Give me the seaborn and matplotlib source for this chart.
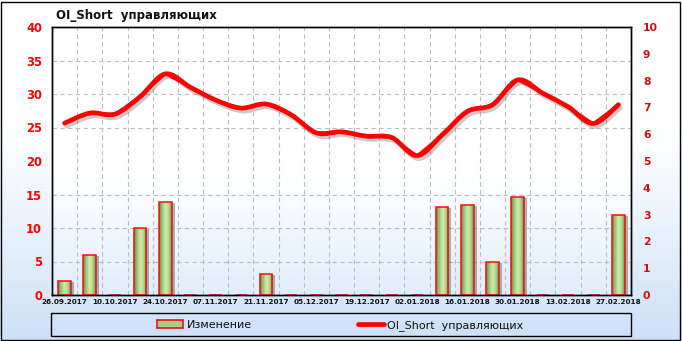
import numpy as np
import pandas as pd
import matplotlib
matplotlib.use("Agg")
import matplotlib.pyplot as plt
import seaborn as sns
from matplotlib import transforms
from matplotlib.patches import Rectangle, PathPatch
from matplotlib.path import Path
from matplotlib.lines import Line2D
from matplotlib.ticker import FixedLocator

# ---------------- data ----------------
dates = ["26.09.2017", "03.10.2017", "10.10.2017", "17.10.2017", "24.10.2017",
         "31.10.2017", "07.11.2017", "14.11.2017", "21.11.2017", "28.11.2017",
         "05.12.2017", "12.12.2017", "19.12.2017", "26.12.2017", "02.01.2018",
         "09.01.2018", "16.01.2018", "23.01.2018", "30.01.2018", "06.02.2018",
         "13.02.2018", "20.02.2018", "27.02.2018"]
oi_short = [25.65, 27.15, 27.0, 29.6, 33.0, 31.0, 29.1, 27.9, 28.5, 26.9,
            24.2, 24.35, 23.7, 23.5, 20.8, 23.9, 27.4, 28.4, 32.1, 30.1,
            28.1, 25.6, 28.4]
change = [0.54, 1.48, 0.0, 2.5, 3.46, 0.0, 0.0, 0.0, 0.8, 0.0,
          0.0, 0.0, 0.0, 0.0, 0.0, 3.3, 3.35, 1.23, 3.64, 0.0,
          0.0, 0.0, 3.0]
left_ticks = [0, 5, 10, 15, 20, 25, 30, 35, 40]
right_ticks = [0, 1, 2, 3, 4, 5, 6, 7, 8, 9, 10]
title = "OI_Short  управляющих"
bar_label = "Изменение"
line_label = "OI_Short  управляющих"

df = pd.DataFrame({"date": dates, "pos": np.arange(len(dates)),
                   "oi_short": oi_short, "change": change})

sns.set_theme(style="white")
plt.rcParams["font.family"] = ["DejaVu Sans"]

W, H = 682, 341
fig = plt.figure(figsize=(W / 100, H / 100), dpi=100)
fig.patch.set_facecolor("white")

def fr(x0, y0, x1, y1):
    return [x0 / W, 1 - y1 / H, (x1 - x0) / W, (y1 - y0) / H]

# figure background gradient
bg = fig.add_axes([0, 0, 1, 1], zorder=-10)
t = np.linspace(0, 1, 256)[:, None]
top = np.array([1.0, 1.0, 1.0])
bot = np.array([0.80, 0.88, 0.97])
w = np.clip((t - 0.35) / 0.65, 0, 1) ** 1.2
grad = top * (1 - w)[..., None] + bot * w[..., None]
bg.imshow(grad, extent=[0, 1, 0, 1], aspect="auto")
bg.set_xlim(0, 1); bg.set_ylim(0, 1)
bg.axis("off")
bg.add_patch(Rectangle((1 / W, 1 / H), 679 / W, 338 / H, fill=False,
                       edgecolor="black", linewidth=1.0,
                       transform=bg.transAxes))

# plot-area background gradient
rect = fr(52, 27, 631, 295)
pbg = fig.add_axes(rect, zorder=-5)
w2 = np.clip((t - 0.55) / 0.45, 0, 1)
grad2 = top * (1 - w2)[..., None] + np.array([0.88, 0.93, 0.985]) * w2[..., None]
pbg.imshow(grad2, extent=[0, 1, 0, 1], aspect="auto")
pbg.set_xlim(0, 1); pbg.set_ylim(0, 1)
pbg.axis("off")

# bars axis (values on right scale)
ax = fig.add_axes(rect)
ax.patch.set_alpha(0)
sns.barplot(data=df, x="date", y="change", ax=ax, width=0.5,
            color="#A9CC86", edgecolor="#EE1111", linewidth=1.1,
            saturation=1, zorder=3)

cols = np.array([[0.40, 0.56, 0.28], [0.62, 0.78, 0.47], [0.82, 0.92, 0.68],
                 [0.70, 0.85, 0.55], [0.42, 0.58, 0.30]])
xs = np.linspace(0, 1, 60)
gx = np.linspace(0, 1, len(cols))
bar_grad = np.stack([np.interp(xs, gx, cols[:, c]) for c in range(3)], axis=-1)[None, :, :]

shadow_off = transforms.ScaledTranslation(3 / 100, -1 / 100, fig.dpi_scale_trans)
for p in list(ax.patches):
    x0, y0 = p.get_x(), p.get_y()
    bw, bh = p.get_width(), p.get_height()
    if bh <= 0:
        continue
    ax.add_patch(Rectangle((x0, y0), bw, bh, facecolor="#3a2a20", alpha=0.35,
                           edgecolor="none", transform=ax.transData + shadow_off,
                           zorder=2))
    im = ax.imshow(bar_grad, extent=[x0, x0 + bw, y0, y0 + bh], aspect="auto",
                   zorder=3.5, interpolation="bilinear")
    im.set_clip_path(p)
    p.set_facecolor("none")
    p.set_zorder(4)

ax.set_xlim(-0.5, len(dates) - 0.5)
ax.set_ylim(0, 10)
ax.set_xticks(np.arange(0, len(dates), 2))
ax.set_xticklabels(dates[::2])
ax.xaxis.set_minor_locator(FixedLocator(np.arange(-0.5, len(dates), 1)))
ax.yaxis.set_minor_locator(FixedLocator(np.array(left_ticks) / 4.0))
ax.grid(False, which="major")
ax.grid(True, which="minor", color="#BDBDBD", linestyle=(0, (4, 3)), linewidth=0.8)
ax.set_axisbelow(True)
ax.set_xlabel(""); ax.set_ylabel("")

# line axis (left scale)
ax2 = ax.twinx()
ax2.patch.set_alpha(0)
line_off = transforms.ScaledTranslation(2 / 100, -3 / 100, fig.dpi_scale_trans)

# smooth curve through the data points (Catmull-Rom as cubic Bezier)
px = df["pos"].to_numpy(float)
py = df["oi_short"].to_numpy(float)
P = np.column_stack([px, py])
Pe = np.vstack([P[0], P, P[-1]])
verts = [tuple(P[0])]
codes = [Path.MOVETO]
for i in range(len(P) - 1):
    p0, p1, p2, p3 = Pe[i], Pe[i + 1], Pe[i + 2], Pe[i + 3]
    c1 = p1 + (p2 - p0) / 6.0
    c2 = p2 - (p3 - p1) / 6.0
    verts += [tuple(c1), tuple(c2), tuple(p2)]
    codes += [Path.CURVE4] * 3
smooth = Path(verts, codes)

ax2.add_patch(PathPatch(smooth, facecolor="none", edgecolor="#555555", alpha=0.3,
                        linewidth=3.4, capstyle="round", joinstyle="round",
                        transform=ax2.transData + line_off, zorder=2))
sns.lineplot(data=df, x="pos", y="oi_short", ax=ax2, color="#FF0000",
             linewidth=1.8, zorder=3)
for ln in ax2.lines:
    ln.set_solid_joinstyle("round")
    ln.set_solid_capstyle("round")
ax2.add_patch(PathPatch(smooth, facecolor="none", edgecolor="#FF0000",
                        linewidth=3.4, capstyle="round", joinstyle="round",
                        transform=ax2.transData, zorder=3.5))
ax2.set_ylim(0, 40)
ax2.set_xlim(-0.5, len(dates) - 0.5)
ax2.set_yticks(left_ticks)
ax2.set_xlabel(""); ax2.set_ylabel("")
ax2.grid(False)

# axis sides: left = line scale, right = bar scale
ax2.yaxis.set_label_position("left")
ax2.tick_params(axis="y", which="both", length=0, pad=7.2, labelsize=8.3,
                labelcolor="#FF0000", left=True, right=False,
                labelleft=True, labelright=False)
ax.set_yticks(right_ticks)
ax.tick_params(axis="y", which="both", length=0, pad=8.6, labelsize=7.8,
               labelcolor="#CC1111", left=False, right=True,
               labelleft=False, labelright=True)
ax.tick_params(axis="x", which="both", length=0, pad=3.2, labelsize=5.2,
               labelcolor="#111111")
for lab in ax.get_xticklabels() + ax.get_yticklabels() + ax2.get_yticklabels():
    lab.set_fontweight("bold")
for a in (ax, ax2):
    for s in a.spines.values():
        s.set_color("black")
        s.set_linewidth(1.0)

# title
fig.text(56 / W, 1 - 15 / H, title, fontsize=8.5, fontweight="bold",
         color="#111111", ha="left", va="center")

# legend box
fig.patches.append(Rectangle((51 / W, 1 - 336 / H), 580 / W, 23 / H, fill=False,
                             edgecolor="black", linewidth=1.0,
                             transform=fig.transFigure, figure=fig))
h1 = Rectangle((0, 0), 1, 1, facecolor="#A9CC86", edgecolor="#EE1111", linewidth=1.2)
h2 = Line2D([0], [0], color="#FF0000", linewidth=3.4)
kw = dict(loc="center left", frameon=False, fontsize=8, borderpad=0,
          borderaxespad=0, handlelength=2.35, handleheight=0.8,
          handletextpad=0.3)
leg1 = fig.legend(handles=[h1], labels=[bar_label],
                  bbox_to_anchor=(157 / W, 1 - 325 / H), **kw)
leg2 = fig.legend(handles=[h2], labels=[line_label],
                  bbox_to_anchor=(358 / W, 1 - 325 / H), **kw)
for lg in (leg1, leg2):
    for tx in lg.get_texts():
        tx.set_color("#111111")

fig.savefig("out.png", dpi=100)
